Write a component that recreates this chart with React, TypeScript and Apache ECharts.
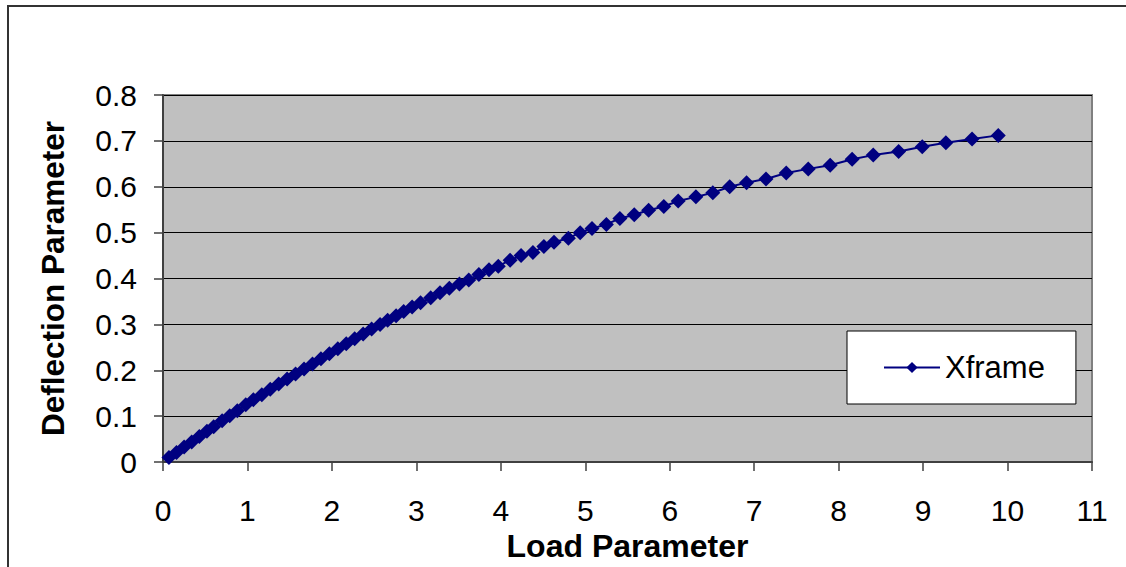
import React, { useEffect, useRef } from "react";
import * as echarts from "echarts";

const loadParam: number[] = [
  0.07, 0.16, 0.25, 0.34, 0.43, 0.52, 0.6, 0.7, 0.79, 0.88, 0.98, 1.07, 1.17, 1.27, 1.37,
  1.47, 1.57, 1.67, 1.77, 1.87, 1.97, 2.07, 2.17, 2.27, 2.37, 2.47, 2.57, 2.66, 2.76,
  2.85, 2.95, 3.05, 3.17, 3.28, 3.39, 3.51, 3.62, 3.74, 3.86, 3.97, 4.11, 4.24, 4.38,
  4.51, 4.63, 4.8, 4.94, 5.08, 5.25, 5.41, 5.58, 5.75, 5.93, 6.1, 6.31, 6.51, 6.71,
  6.91, 7.14, 7.38, 7.64, 7.9, 8.16, 8.41, 8.71, 8.99, 9.27, 9.58, 9.89,
];
const deflectionParam: number[] = [
  0.01, 0.021, 0.033, 0.044, 0.056, 0.067, 0.077, 0.09, 0.101, 0.112, 0.125, 0.136, 0.147,
  0.159, 0.17, 0.181, 0.192, 0.203, 0.214, 0.225, 0.236, 0.247, 0.258, 0.269, 0.279, 0.29,
  0.3, 0.309, 0.319,
  0.328, 0.338, 0.347, 0.358, 0.369, 0.379, 0.388, 0.397, 0.409, 0.419, 0.427, 0.44, 0.45,
  0.457, 0.47, 0.479, 0.488, 0.5, 0.509, 0.518, 0.531, 0.539, 0.549, 0.557, 0.569, 0.578,
  0.587, 0.6, 0.609, 0.617, 0.63, 0.639, 0.647, 0.66, 0.669, 0.677, 0.687, 0.696, 0.704,
  0.712,
];
const seriesName = "Xframe";
const xTitle = "Load Parameter";
const yTitle = "Deflection Parameter";

const FONT = "'Liberation Sans', Arial, sans-serif";

export default function App() {
  const ref = useRef<HTMLDivElement>(null);
  useEffect(() => {
    if (!ref.current) return;
    const chart = echarts.init(ref.current, undefined, { renderer: "svg" });
    const data = loadParam.map((x, i) => [x, deflectionParam[i]]);
    chart.setOption({
      animation: false,
      backgroundColor: "#ffffff",
      textStyle: { fontFamily: FONT },
      graphic: [
        {
          type: "rect",
          shape: { x: 8, y: 6, width: 1300, height: 700 },
          style: { fill: "none", stroke: "#333333", lineWidth: 2 },
          silent: true,
          z: -10,
        },
      ],
      grid: {
        left: 163,
        top: 95,
        width: 929,
        height: 369,
        show: true,
        backgroundColor: "#c0c0c0",
        borderColor: "#808080",
        borderWidth: 2,
      },
      legend: {
        left: 847,
        top: 331,
        orient: "vertical",
        backgroundColor: "#ffffff",
        borderColor: "#000000",
        borderWidth: 1,
        borderRadius: 0,
        padding: [21, 31, 21, 36],
        itemWidth: 56,
        itemHeight: 14,
        textStyle: { fontSize: 31, color: "#000", fontFamily: FONT },
        data: [{ name: seriesName }],
      },
      xAxis: {
        type: "value",
        min: 0,
        max: 11,
        interval: 1,
        name: xTitle,
        nameLocation: "middle",
        nameGap: 59,
        nameTextStyle: { fontSize: 32, fontWeight: "bold", color: "#000", fontFamily: FONT },
        axisLine: { show: true, lineStyle: { color: "#404040", width: 2 } },
        axisTick: { show: true, length: 9, lineStyle: { color: "#404040", width: 1.5 } },
        axisLabel: { fontSize: 30, color: "#000", margin: 33, fontFamily: FONT },
        splitLine: { show: false },
      },
      yAxis: {
        type: "value",
        min: 0,
        max: 0.8,
        interval: 0.1,
        name: yTitle,
        nameLocation: "middle",
        nameRotate: 90,
        nameGap: 94,
        nameTextStyle: { fontSize: 31.5, fontWeight: "bold", color: "#000", fontFamily: FONT },
        axisLine: { show: true, lineStyle: { color: "#404040", width: 2 } },
        axisTick: { show: true, length: 9, lineStyle: { color: "#404040", width: 1.5 } },
        axisLabel: { fontSize: 30, color: "#000", margin: 26, fontFamily: FONT },
        splitLine: { show: true, lineStyle: { color: "#000000", width: 1 } },
      },
      series: [
        {
          name: seriesName,
          type: "line",
          data,
          symbol: "diamond",
          symbolSize: 15,
          showSymbol: true,
          lineStyle: { color: "#000080", width: 2 },
          itemStyle: { color: "#000080" },
        },
      ],
    });
    return () => chart.dispose();
  }, []);
  return (
    <div
      ref={ref}
      style={{ position: "absolute", left: 0, top: 0, width: 1126, height: 567 }}
    />
  );
}
